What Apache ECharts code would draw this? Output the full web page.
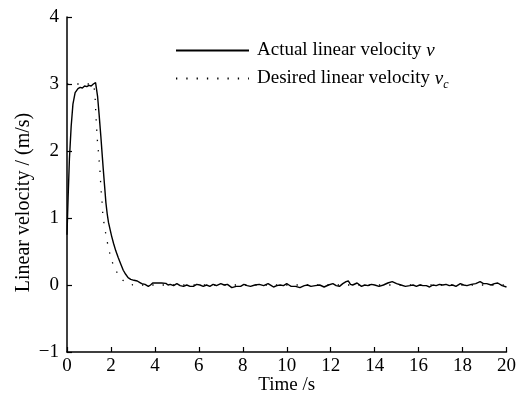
<!DOCTYPE html>
<html><head><meta charset="utf-8">
<script src="https://cdn.jsdelivr.net/npm/echarts@6/dist/echarts.min.js"></script>
<style>html,body{margin:0;padding:0;background:#fff}#c{width:519px;height:405px}</style>
</head><body><div id="c"></div>
<script>
const xTicks = [0,2,4,6,8,10,12,14,16,18,20];
const yTicks = [-1,0,1,2,3,4];
const tActual = [0,0.05,0.11,0.19,0.27,0.37,0.5,0.6,0.7,0.8,0.9,1.0,1.1,1.2,1.3,1.39,1.46,1.54,1.6,1.65,1.71,1.77,1.83,1.89,2.03,2.12,2.22,2.33,2.45,2.56,2.67,2.78,2.9,3.05,3.2,3.3,3.4,3.55,3.7,3.8,3.9,4.1,4.3,4.5,4.6,4.7,4.85,5.0,5.15,5.3,5.45,5.6,5.75,5.9,6.05,6.2,6.35,6.5,6.65,6.8,7.0,7.15,7.3,7.5,7.7,7.9,8.05,8.2,8.35,8.55,8.75,8.95,9.15,9.3,9.4,9.55,9.7,9.85,10.0,10.1,10.2,10.4,10.6,10.8,10.95,11.1,11.3,11.5,11.7,11.9,12.1,12.25,12.4,12.55,12.7,12.8,12.9,13.0,13.2,13.4,13.55,13.7,13.85,14.0,14.2,14.4,14.6,14.8,15.0,15.2,15.4,15.6,15.75,15.9,16.05,16.2,16.35,16.5,16.65,16.8,16.95,17.1,17.25,17.4,17.55,17.7,17.9,18.05,18.2,18.4,18.6,18.8,18.95,19.1,19.3,19.45,19.6,19.8,20.0];
const vActual = [0.75,1.3,1.88,2.37,2.7,2.87,2.93,2.95,2.94,2.97,2.96,2.98,2.97,3.0,3.02,2.82,2.55,2.22,1.95,1.73,1.48,1.23,1.06,0.93,0.73,0.62,0.51,0.41,0.31,0.22,0.16,0.11,0.085,0.07,0.06,0.04,0.02,0.01,-0.02,0.0,0.03,0.03,0.03,0.025,0.0,0.01,-0.01,0.02,-0.01,-0.02,0.0,-0.02,-0.02,0.01,0.0,-0.02,0.0,-0.02,0.01,-0.01,0.02,0.0,0.01,-0.04,-0.02,-0.02,0.01,-0.01,-0.02,0.0,0.01,-0.01,0.02,-0.01,-0.03,-0.01,0.0,-0.01,0.02,0.0,-0.02,-0.02,-0.04,-0.01,0.0,-0.02,-0.01,0.0,-0.03,0.0,0.02,-0.01,-0.02,0.02,0.05,0.06,0.01,0.0,0.03,-0.02,0.0,-0.01,0.01,0.0,-0.02,0.0,0.03,0.05,0.02,0.0,-0.02,-0.01,0.0,-0.02,0.0,-0.01,-0.01,-0.03,0.0,-0.01,0.01,0.0,0.01,-0.01,0.0,-0.02,0.02,0.0,-0.01,0.01,0.02,0.05,0.02,0.02,0.0,0.02,0.03,-0.01,-0.03];
const tDesired = [0,1.2,1.27,1.32,1.39,1.44,1.5,1.55,1.6,1.63,1.7,1.8,1.9,2.05,2.25,2.55,3.0,20];
const vDesired = [3,3,2.87,2.5,2.12,1.95,1.7,1.42,1.22,1.05,0.88,0.7,0.53,0.35,0.2,0.07,0.0,0];
const seriesNames = ['Actual linear velocity v','Desired linear velocity vc'];

const FONT = 'Liberation Serif';
const FS = 19;
const chart = echarts.init(document.getElementById('c'), null, {renderer:'canvas'});
const axisCommon = {
  axisLine:{show:true,onZero:false,lineStyle:{color:'#000',width:1.5}},
  axisTick:{show:true,inside:true,length:5,lineStyle:{color:'#000',width:1.2}},
  splitLine:{show:false},
  nameMoveOverlap:false,
  axisLabel:{color:'#000',fontFamily:FONT,fontSize:FS},
  nameTextStyle:{color:'#000',fontFamily:FONT,fontSize:FS}
};
chart.setOption({
  animation:false,
  backgroundColor:'#fff',
  grid:{left:67,right:9,top:17,bottom:53},
  legend:{
    orient:'vertical',left:170,top:36,itemGap:9,itemWidth:73,itemHeight:16,
    data:[seriesNames[0],seriesNames[1]],
    itemStyle:{opacity:0,borderWidth:0},
    formatter:function(n){
      if(n===seriesNames[0]) return '{t|Actual linear velocity }{i|v}';
      return '{t|Desired linear velocity }{i|v}{s|c}';
    },
    textStyle:{color:'#000',fontFamily:FONT,fontSize:FS,padding:[0,0,0,3],
      rich:{t:{fontFamily:FONT,fontSize:FS,color:'#000'},
            i:{fontFamily:FONT,fontSize:FS,fontStyle:'italic',color:'#000'},
            s:{fontFamily:FONT,fontSize:12,fontStyle:'italic',color:'#000',padding:[12,0,0,0]}}}
  },
  xAxis:Object.assign({},axisCommon,{type:'value',min:0,max:20,interval:2,name:'Time /s',nameLocation:'middle',nameGap:24,
    axisLabel:Object.assign({},axisCommon.axisLabel,{margin:5})}),
  yAxis:Object.assign({},axisCommon,{type:'value',min:-1,max:4,interval:1,name:'Linear velocity / (m/s)',nameLocation:'middle',nameGap:33,
    nameTextStyle:{color:'#000',fontFamily:FONT,fontSize:20,padding:[0,36,0,0]},
    axisLabel:Object.assign({},axisCommon.axisLabel,{margin:8,formatter:function(v){return v<0?'\u2212'+(-v):String(v);}})}),
  series:[
    {name:seriesNames[1],type:'line',showSymbol:false,symbol:'none',z:1,
     data:tDesired.map((t,i)=>[t,vDesired[i]]),
     lineStyle:{color:'#000',width:1.3,type:[1.3,9]},itemStyle:{color:'#000'}},
    {name:seriesNames[0],type:'line',showSymbol:false,symbol:'none',z:2,
     data:tActual.map((t,i)=>[t,vActual[i]]),
     lineStyle:{color:'#000',width:1.4},itemStyle:{color:'#000'}}
  ]
});
</script></body></html>
